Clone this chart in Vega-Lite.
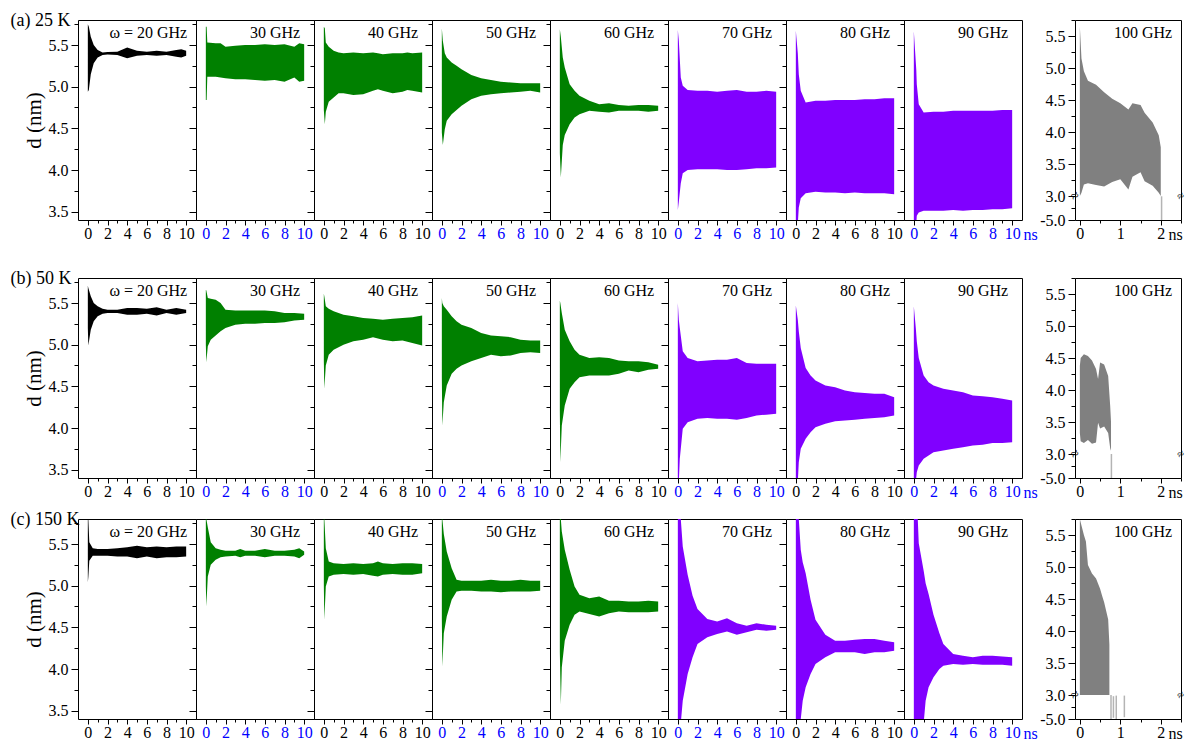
{
"$schema":"https://vega.github.io/schema/vega-lite/v6.json",
"padding":{"left":9,"top":11,"right":0,"bottom":0},
"background":"white",
"config":{
 "view":{"stroke":"#000000","strokeWidth":1},
 "font":"Liberation Serif",
 "text":{"font":"Liberation Serif","color":"black"},
 "axis":{"grid":false,"domain":false,"tickColor":"black","tickWidth":1,"labelColor":"black","labelFont":"Liberation Serif","labelFontSize":16,"titleFont":"Liberation Serif","titleFontWeight":"normal","titleColor":"black","labelOverlap":false,"labelFlush":false,"labelPadding":3},
 "axisX":{"labelPadding":0}
},
"datasets":{
"sig":[
{"r":"a","f":20,"t":0,"lo":4.94,"hi":5.75},{"r":"a","f":20,"t":0.1,"lo":4.96,"hi":5.72},{"r":"a","f":20,"t":0.3,"lo":5.15,"hi":5.6},{"r":"a","f":20,"t":0.6,"lo":5.28,"hi":5.5},{"r":"a","f":20,"t":1,"lo":5.35,"hi":5.44},{"r":"a","f":20,"t":1.5,"lo":5.38,"hi":5.41},{"r":"a","f":20,"t":2,"lo":5.385,"hi":5.415},{"r":"a","f":20,"t":3,"lo":5.38,"hi":5.42},{"r":"a","f":20,"t":4,"lo":5.34,"hi":5.47},{"r":"a","f":20,"t":5,"lo":5.37,"hi":5.43},{"r":"a","f":20,"t":6,"lo":5.38,"hi":5.42},{"r":"a","f":20,"t":7,"lo":5.37,"hi":5.43},{"r":"a","f":20,"t":8,"lo":5.38,"hi":5.42},{"r":"a","f":20,"t":9,"lo":5.36,"hi":5.44},{"r":"a","f":20,"t":9.5,"lo":5.35,"hi":5.45},{"r":"a","f":20,"t":10,"lo":5.37,"hi":5.43},
{"r":"a","f":30,"t":0,"lo":4.84,"hi":5.72},{"r":"a","f":30,"t":0.08,"lo":4.84,"hi":5.72},{"r":"a","f":30,"t":0.15,"lo":5.12,"hi":5.53},{"r":"a","f":30,"t":1,"lo":5.12,"hi":5.52},{"r":"a","f":30,"t":1.5,"lo":5.11,"hi":5.52},{"r":"a","f":30,"t":2,"lo":5.1,"hi":5.48},{"r":"a","f":30,"t":3,"lo":5.09,"hi":5.49},{"r":"a","f":30,"t":4,"lo":5.09,"hi":5.5},{"r":"a","f":30,"t":5,"lo":5.08,"hi":5.5},{"r":"a","f":30,"t":6,"lo":5.07,"hi":5.51},{"r":"a","f":30,"t":7,"lo":5.08,"hi":5.5},{"r":"a","f":30,"t":8,"lo":5.06,"hi":5.51},{"r":"a","f":30,"t":9,"lo":5.11,"hi":5.48},{"r":"a","f":30,"t":9.5,"lo":5.06,"hi":5.52},{"r":"a","f":30,"t":10,"lo":5.07,"hi":5.51},
{"r":"a","f":40,"t":0,"lo":4.72,"hi":5.72},{"r":"a","f":40,"t":0.1,"lo":4.55,"hi":5.7},{"r":"a","f":40,"t":0.2,"lo":4.7,"hi":5.53},{"r":"a","f":40,"t":0.5,"lo":4.82,"hi":5.48},{"r":"a","f":40,"t":1,"lo":4.87,"hi":5.43},{"r":"a","f":40,"t":1.5,"lo":4.92,"hi":5.41},{"r":"a","f":40,"t":2,"lo":4.92,"hi":5.4},{"r":"a","f":40,"t":3,"lo":4.9,"hi":5.41},{"r":"a","f":40,"t":4,"lo":4.91,"hi":5.4},{"r":"a","f":40,"t":5,"lo":4.95,"hi":5.41},{"r":"a","f":40,"t":5.5,"lo":4.97,"hi":5.4},{"r":"a","f":40,"t":6,"lo":4.95,"hi":5.39},{"r":"a","f":40,"t":7,"lo":4.92,"hi":5.4},{"r":"a","f":40,"t":8,"lo":4.94,"hi":5.4},{"r":"a","f":40,"t":8.5,"lo":4.96,"hi":5.41},{"r":"a","f":40,"t":9,"lo":4.95,"hi":5.4},{"r":"a","f":40,"t":10,"lo":4.93,"hi":5.41},
{"r":"a","f":50,"t":0,"lo":4.45,"hi":5.7},{"r":"a","f":50,"t":0.1,"lo":4.3,"hi":5.55},{"r":"a","f":50,"t":0.3,"lo":4.49,"hi":5.4},{"r":"a","f":50,"t":0.5,"lo":4.59,"hi":5.35},{"r":"a","f":50,"t":1,"lo":4.67,"hi":5.29},{"r":"a","f":50,"t":1.5,"lo":4.72,"hi":5.25},{"r":"a","f":50,"t":2,"lo":4.77,"hi":5.21},{"r":"a","f":50,"t":3,"lo":4.85,"hi":5.14},{"r":"a","f":50,"t":4,"lo":4.89,"hi":5.1},{"r":"a","f":50,"t":5,"lo":4.91,"hi":5.08},{"r":"a","f":50,"t":6,"lo":4.92,"hi":5.06},{"r":"a","f":50,"t":7,"lo":4.93,"hi":5.05},{"r":"a","f":50,"t":8,"lo":4.94,"hi":5.04},{"r":"a","f":50,"t":9,"lo":4.95,"hi":5.04},{"r":"a","f":50,"t":10,"lo":4.93,"hi":5.04},
{"r":"a","f":60,"t":0,"lo":4.2,"hi":5.69},{"r":"a","f":60,"t":0.1,"lo":3.91,"hi":5.6},{"r":"a","f":60,"t":0.3,"lo":4.3,"hi":5.35},{"r":"a","f":60,"t":0.5,"lo":4.42,"hi":5.23},{"r":"a","f":60,"t":1,"lo":4.55,"hi":5.03},{"r":"a","f":60,"t":1.5,"lo":4.63,"hi":4.95},{"r":"a","f":60,"t":2,"lo":4.67,"hi":4.89},{"r":"a","f":60,"t":3,"lo":4.71,"hi":4.83},{"r":"a","f":60,"t":4,"lo":4.7,"hi":4.79},{"r":"a","f":60,"t":5,"lo":4.69,"hi":4.8},{"r":"a","f":60,"t":6,"lo":4.71,"hi":4.78},{"r":"a","f":60,"t":7,"lo":4.71,"hi":4.77},{"r":"a","f":60,"t":8,"lo":4.71,"hi":4.78},{"r":"a","f":60,"t":9,"lo":4.7,"hi":4.78},{"r":"a","f":60,"t":10,"lo":4.71,"hi":4.77},
{"r":"a","f":70,"t":0,"lo":3.52,"hi":5.68},{"r":"a","f":70,"t":0.1,"lo":3.62,"hi":5.55},{"r":"a","f":70,"t":0.3,"lo":3.84,"hi":5.11},{"r":"a","f":70,"t":0.5,"lo":3.96,"hi":5.01},{"r":"a","f":70,"t":1,"lo":4.0,"hi":4.96},{"r":"a","f":70,"t":2,"lo":4.01,"hi":4.95},{"r":"a","f":70,"t":3,"lo":4.01,"hi":4.95},{"r":"a","f":70,"t":4,"lo":4.01,"hi":4.94},{"r":"a","f":70,"t":5,"lo":4.0,"hi":4.95},{"r":"a","f":70,"t":6,"lo":4.0,"hi":4.96},{"r":"a","f":70,"t":7,"lo":4.01,"hi":4.94},{"r":"a","f":70,"t":8,"lo":4.02,"hi":4.94},{"r":"a","f":70,"t":9,"lo":4.02,"hi":4.95},{"r":"a","f":70,"t":10,"lo":4.03,"hi":4.94},
{"r":"a","f":80,"t":0,"lo":3.35,"hi":5.67},{"r":"a","f":80,"t":0.2,"lo":3.35,"hi":5.4},{"r":"a","f":80,"t":0.3,"lo":3.55,"hi":5.15},{"r":"a","f":80,"t":0.5,"lo":3.66,"hi":4.95},{"r":"a","f":80,"t":1,"lo":3.72,"hi":4.81},{"r":"a","f":80,"t":2,"lo":3.74,"hi":4.83},{"r":"a","f":80,"t":3,"lo":3.73,"hi":4.83},{"r":"a","f":80,"t":4,"lo":3.73,"hi":4.84},{"r":"a","f":80,"t":5,"lo":3.72,"hi":4.84},{"r":"a","f":80,"t":6,"lo":3.73,"hi":4.84},{"r":"a","f":80,"t":7,"lo":3.72,"hi":4.85},{"r":"a","f":80,"t":8,"lo":3.72,"hi":4.85},{"r":"a","f":80,"t":9,"lo":3.72,"hi":4.86},{"r":"a","f":80,"t":10,"lo":3.71,"hi":4.86},
{"r":"a","f":90,"t":0,"lo":3.35,"hi":5.665},{"r":"a","f":90,"t":0.25,"lo":3.35,"hi":5.2},{"r":"a","f":90,"t":0.3,"lo":3.45,"hi":5.03},{"r":"a","f":90,"t":0.5,"lo":3.49,"hi":4.79},{"r":"a","f":90,"t":1,"lo":3.51,"hi":4.69},{"r":"a","f":90,"t":2,"lo":3.51,"hi":4.7},{"r":"a","f":90,"t":3,"lo":3.51,"hi":4.7},{"r":"a","f":90,"t":4,"lo":3.52,"hi":4.71},{"r":"a","f":90,"t":5,"lo":3.51,"hi":4.71},{"r":"a","f":90,"t":6,"lo":3.52,"hi":4.71},{"r":"a","f":90,"t":7,"lo":3.52,"hi":4.71},{"r":"a","f":90,"t":8,"lo":3.53,"hi":4.71},{"r":"a","f":90,"t":9,"lo":3.53,"hi":4.72},{"r":"a","f":90,"t":10,"lo":3.54,"hi":4.72},
{"r":"a","f":100,"t":0,"lo":3.0,"hi":5.65},{"r":"a","f":100,"t":0.04,"lo":3.05,"hi":5.15},{"r":"a","f":100,"t":0.1,"lo":3.18,"hi":4.95},{"r":"a","f":100,"t":0.2,"lo":3.2,"hi":4.8},{"r":"a","f":100,"t":0.4,"lo":3.17,"hi":4.74},{"r":"a","f":100,"t":0.6,"lo":3.15,"hi":4.62},{"r":"a","f":100,"t":0.8,"lo":3.22,"hi":4.52},{"r":"a","f":100,"t":1.0,"lo":3.26,"hi":4.45},{"r":"a","f":100,"t":1.2,"lo":3.1,"hi":4.35},{"r":"a","f":100,"t":1.3,"lo":3.3,"hi":4.45},{"r":"a","f":100,"t":1.5,"lo":3.37,"hi":4.42},{"r":"a","f":100,"t":1.6,"lo":3.23,"hi":4.3},{"r":"a","f":100,"t":1.8,"lo":3.16,"hi":4.15},{"r":"a","f":100,"t":1.95,"lo":3.05,"hi":3.95},{"r":"a","f":100,"t":2.0,"lo":3.0,"hi":3.76},
{"r":"b","f":20,"t":0,"lo":5.2,"hi":5.71},{"r":"b","f":20,"t":0.05,"lo":4.99,"hi":5.68},{"r":"b","f":20,"t":0.3,"lo":5.18,"hi":5.58},{"r":"b","f":20,"t":0.6,"lo":5.28,"hi":5.5},{"r":"b","f":20,"t":1,"lo":5.34,"hi":5.46},{"r":"b","f":20,"t":1.5,"lo":5.37,"hi":5.43},{"r":"b","f":20,"t":2,"lo":5.38,"hi":5.42},{"r":"b","f":20,"t":3,"lo":5.38,"hi":5.42},{"r":"b","f":20,"t":4,"lo":5.36,"hi":5.44},{"r":"b","f":20,"t":5,"lo":5.36,"hi":5.44},{"r":"b","f":20,"t":6,"lo":5.37,"hi":5.43},{"r":"b","f":20,"t":7,"lo":5.35,"hi":5.45},{"r":"b","f":20,"t":8,"lo":5.38,"hi":5.42},{"r":"b","f":20,"t":9,"lo":5.36,"hi":5.44},{"r":"b","f":20,"t":10,"lo":5.38,"hi":5.42},
{"r":"b","f":30,"t":0,"lo":5.0,"hi":5.66},{"r":"b","f":30,"t":0.05,"lo":4.79,"hi":5.65},{"r":"b","f":30,"t":0.2,"lo":4.98,"hi":5.56},{"r":"b","f":30,"t":0.5,"lo":5.06,"hi":5.55},{"r":"b","f":30,"t":1,"lo":5.11,"hi":5.54},{"r":"b","f":30,"t":1.5,"lo":5.16,"hi":5.5},{"r":"b","f":30,"t":2,"lo":5.2,"hi":5.42},{"r":"b","f":30,"t":3,"lo":5.24,"hi":5.41},{"r":"b","f":30,"t":4,"lo":5.25,"hi":5.41},{"r":"b","f":30,"t":5,"lo":5.25,"hi":5.41},{"r":"b","f":30,"t":6,"lo":5.26,"hi":5.41},{"r":"b","f":30,"t":7,"lo":5.26,"hi":5.4},{"r":"b","f":30,"t":8,"lo":5.27,"hi":5.38},{"r":"b","f":30,"t":9,"lo":5.29,"hi":5.38},{"r":"b","f":30,"t":10,"lo":5.3,"hi":5.37},
{"r":"b","f":40,"t":0,"lo":4.8,"hi":5.61},{"r":"b","f":40,"t":0.05,"lo":4.47,"hi":5.58},{"r":"b","f":40,"t":0.2,"lo":4.75,"hi":5.46},{"r":"b","f":40,"t":0.5,"lo":4.88,"hi":5.43},{"r":"b","f":40,"t":1,"lo":4.94,"hi":5.4},{"r":"b","f":40,"t":2,"lo":5.0,"hi":5.36},{"r":"b","f":40,"t":3,"lo":5.04,"hi":5.34},{"r":"b","f":40,"t":4,"lo":5.06,"hi":5.32},{"r":"b","f":40,"t":5,"lo":5.09,"hi":5.31},{"r":"b","f":40,"t":6,"lo":5.06,"hi":5.3},{"r":"b","f":40,"t":7,"lo":5.04,"hi":5.31},{"r":"b","f":40,"t":8,"lo":5.05,"hi":5.32},{"r":"b","f":40,"t":9,"lo":5.02,"hi":5.33},{"r":"b","f":40,"t":10,"lo":4.99,"hi":5.35},
{"r":"b","f":50,"t":0,"lo":4.6,"hi":5.56},{"r":"b","f":50,"t":0.05,"lo":4.03,"hi":5.5},{"r":"b","f":50,"t":0.2,"lo":4.31,"hi":5.46},{"r":"b","f":50,"t":0.5,"lo":4.51,"hi":5.42},{"r":"b","f":50,"t":1,"lo":4.65,"hi":5.34},{"r":"b","f":50,"t":1.5,"lo":4.71,"hi":5.28},{"r":"b","f":50,"t":2,"lo":4.75,"hi":5.24},{"r":"b","f":50,"t":3,"lo":4.8,"hi":5.2},{"r":"b","f":50,"t":4,"lo":4.84,"hi":5.14},{"r":"b","f":50,"t":5,"lo":4.88,"hi":5.11},{"r":"b","f":50,"t":6,"lo":4.86,"hi":5.1},{"r":"b","f":50,"t":7,"lo":4.87,"hi":5.09},{"r":"b","f":50,"t":8,"lo":4.9,"hi":5.06},{"r":"b","f":50,"t":9,"lo":4.91,"hi":5.05},{"r":"b","f":50,"t":10,"lo":4.9,"hi":5.05},
{"r":"b","f":60,"t":0,"lo":4.2,"hi":5.53},{"r":"b","f":60,"t":0.05,"lo":3.59,"hi":5.5},{"r":"b","f":60,"t":0.2,"lo":4.03,"hi":5.38},{"r":"b","f":60,"t":0.5,"lo":4.27,"hi":5.18},{"r":"b","f":60,"t":1,"lo":4.47,"hi":5.04},{"r":"b","f":60,"t":1.5,"lo":4.55,"hi":4.94},{"r":"b","f":60,"t":2,"lo":4.61,"hi":4.88},{"r":"b","f":60,"t":3,"lo":4.63,"hi":4.84},{"r":"b","f":60,"t":4,"lo":4.63,"hi":4.85},{"r":"b","f":60,"t":5,"lo":4.63,"hi":4.84},{"r":"b","f":60,"t":6,"lo":4.65,"hi":4.81},{"r":"b","f":60,"t":7,"lo":4.69,"hi":4.8},{"r":"b","f":60,"t":8,"lo":4.67,"hi":4.8},{"r":"b","f":60,"t":9,"lo":4.7,"hi":4.79},{"r":"b","f":60,"t":10,"lo":4.71,"hi":4.76},
{"r":"b","f":70,"t":0,"lo":3.35,"hi":5.5},{"r":"b","f":70,"t":0.1,"lo":3.35,"hi":5.3},{"r":"b","f":70,"t":0.2,"lo":3.63,"hi":5.2},{"r":"b","f":70,"t":0.5,"lo":3.99,"hi":4.92},{"r":"b","f":70,"t":1,"lo":4.07,"hi":4.84},{"r":"b","f":70,"t":2,"lo":4.11,"hi":4.8},{"r":"b","f":70,"t":3,"lo":4.12,"hi":4.81},{"r":"b","f":70,"t":4,"lo":4.11,"hi":4.82},{"r":"b","f":70,"t":5,"lo":4.11,"hi":4.82},{"r":"b","f":70,"t":6,"lo":4.1,"hi":4.84},{"r":"b","f":70,"t":7,"lo":4.12,"hi":4.78},{"r":"b","f":70,"t":8,"lo":4.15,"hi":4.77},{"r":"b","f":70,"t":9,"lo":4.16,"hi":4.77},{"r":"b","f":70,"t":10,"lo":4.17,"hi":4.77},
{"r":"b","f":80,"t":0,"lo":3.35,"hi":5.47},{"r":"b","f":80,"t":0.2,"lo":3.35,"hi":5.3},{"r":"b","f":80,"t":0.3,"lo":3.59,"hi":5.16},{"r":"b","f":80,"t":0.5,"lo":3.75,"hi":4.96},{"r":"b","f":80,"t":1,"lo":3.87,"hi":4.72},{"r":"b","f":80,"t":1.5,"lo":3.95,"hi":4.63},{"r":"b","f":80,"t":2,"lo":4.01,"hi":4.57},{"r":"b","f":80,"t":3,"lo":4.05,"hi":4.51},{"r":"b","f":80,"t":4,"lo":4.08,"hi":4.49},{"r":"b","f":80,"t":5,"lo":4.09,"hi":4.45},{"r":"b","f":80,"t":6,"lo":4.1,"hi":4.43},{"r":"b","f":80,"t":7,"lo":4.11,"hi":4.42},{"r":"b","f":80,"t":8,"lo":4.12,"hi":4.41},{"r":"b","f":80,"t":9,"lo":4.13,"hi":4.41},{"r":"b","f":80,"t":10,"lo":4.15,"hi":4.37},
{"r":"b","f":90,"t":0,"lo":3.35,"hi":5.46},{"r":"b","f":90,"t":0.2,"lo":3.35,"hi":5.2},{"r":"b","f":90,"t":0.3,"lo":3.47,"hi":5.04},{"r":"b","f":90,"t":0.5,"lo":3.55,"hi":4.84},{"r":"b","f":90,"t":1,"lo":3.63,"hi":4.63},{"r":"b","f":90,"t":1.5,"lo":3.67,"hi":4.55},{"r":"b","f":90,"t":2,"lo":3.71,"hi":4.51},{"r":"b","f":90,"t":3,"lo":3.73,"hi":4.47},{"r":"b","f":90,"t":4,"lo":3.75,"hi":4.45},{"r":"b","f":90,"t":5,"lo":3.77,"hi":4.43},{"r":"b","f":90,"t":6,"lo":3.79,"hi":4.39},{"r":"b","f":90,"t":7,"lo":3.8,"hi":4.38},{"r":"b","f":90,"t":8,"lo":3.82,"hi":4.37},{"r":"b","f":90,"t":9,"lo":3.82,"hi":4.35},{"r":"b","f":90,"t":10,"lo":3.83,"hi":4.33},
{"r":"b","f":100,"t":0,"lo":3.33,"hi":4.38},{"r":"b","f":100,"t":0.02,"lo":3.2,"hi":4.5},{"r":"b","f":100,"t":0.1,"lo":3.17,"hi":4.56},{"r":"b","f":100,"t":0.2,"lo":3.22,"hi":4.53},{"r":"b","f":100,"t":0.3,"lo":3.16,"hi":4.46},{"r":"b","f":100,"t":0.4,"lo":3.18,"hi":4.33},{"r":"b","f":100,"t":0.45,"lo":3.49,"hi":4.17},{"r":"b","f":100,"t":0.5,"lo":3.4,"hi":4.43},{"r":"b","f":100,"t":0.6,"lo":3.43,"hi":4.4},{"r":"b","f":100,"t":0.7,"lo":3.33,"hi":4.22},{"r":"b","f":100,"t":0.75,"lo":3.09,"hi":3.75},{"r":"b","f":100,"t":0.77,"lo":3.05,"hi":3.5},
{"r":"c","f":20,"t":0,"lo":5.04,"hi":5.8},{"r":"c","f":20,"t":0.05,"lo":5.1,"hi":5.8},{"r":"c","f":20,"t":0.15,"lo":5.3,"hi":5.52},{"r":"c","f":20,"t":0.5,"lo":5.36,"hi":5.45},{"r":"c","f":20,"t":1,"lo":5.36,"hi":5.44},{"r":"c","f":20,"t":2,"lo":5.36,"hi":5.44},{"r":"c","f":20,"t":3,"lo":5.35,"hi":5.45},{"r":"c","f":20,"t":4,"lo":5.35,"hi":5.46},{"r":"c","f":20,"t":5,"lo":5.33,"hi":5.48},{"r":"c","f":20,"t":6,"lo":5.35,"hi":5.46},{"r":"c","f":20,"t":7,"lo":5.33,"hi":5.47},{"r":"c","f":20,"t":8,"lo":5.34,"hi":5.46},{"r":"c","f":20,"t":9,"lo":5.34,"hi":5.47},{"r":"c","f":20,"t":10,"lo":5.35,"hi":5.47},
{"r":"c","f":30,"t":0,"lo":5.0,"hi":5.8},{"r":"c","f":30,"t":0.05,"lo":4.75,"hi":5.8},{"r":"c","f":30,"t":0.2,"lo":5.11,"hi":5.7},{"r":"c","f":30,"t":0.5,"lo":5.25,"hi":5.52},{"r":"c","f":30,"t":1,"lo":5.31,"hi":5.45},{"r":"c","f":30,"t":1.5,"lo":5.34,"hi":5.43},{"r":"c","f":30,"t":2,"lo":5.35,"hi":5.42},{"r":"c","f":30,"t":3,"lo":5.36,"hi":5.42},{"r":"c","f":30,"t":3.5,"lo":5.34,"hi":5.44},{"r":"c","f":30,"t":4,"lo":5.36,"hi":5.42},{"r":"c","f":30,"t":5,"lo":5.36,"hi":5.42},{"r":"c","f":30,"t":6,"lo":5.34,"hi":5.44},{"r":"c","f":30,"t":7,"lo":5.36,"hi":5.42},{"r":"c","f":30,"t":8,"lo":5.36,"hi":5.42},{"r":"c","f":30,"t":9,"lo":5.35,"hi":5.43},{"r":"c","f":30,"t":9.5,"lo":5.33,"hi":5.45},{"r":"c","f":30,"t":10,"lo":5.37,"hi":5.41},
{"r":"c","f":40,"t":0,"lo":5.0,"hi":5.8},{"r":"c","f":40,"t":0.05,"lo":4.59,"hi":5.8},{"r":"c","f":40,"t":0.2,"lo":4.99,"hi":5.45},{"r":"c","f":40,"t":0.5,"lo":5.11,"hi":5.29},{"r":"c","f":40,"t":1,"lo":5.13,"hi":5.27},{"r":"c","f":40,"t":2,"lo":5.14,"hi":5.26},{"r":"c","f":40,"t":3,"lo":5.13,"hi":5.27},{"r":"c","f":40,"t":4,"lo":5.14,"hi":5.26},{"r":"c","f":40,"t":5,"lo":5.12,"hi":5.27},{"r":"c","f":40,"t":5.5,"lo":5.11,"hi":5.29},{"r":"c","f":40,"t":6,"lo":5.13,"hi":5.27},{"r":"c","f":40,"t":7,"lo":5.14,"hi":5.26},{"r":"c","f":40,"t":8,"lo":5.13,"hi":5.27},{"r":"c","f":40,"t":9,"lo":5.13,"hi":5.27},{"r":"c","f":40,"t":10,"lo":5.15,"hi":5.26},
{"r":"c","f":50,"t":0,"lo":4.6,"hi":5.8},{"r":"c","f":50,"t":0.05,"lo":4.03,"hi":5.8},{"r":"c","f":50,"t":0.2,"lo":4.43,"hi":5.62},{"r":"c","f":50,"t":0.5,"lo":4.63,"hi":5.41},{"r":"c","f":50,"t":1,"lo":4.83,"hi":5.21},{"r":"c","f":50,"t":1.5,"lo":4.93,"hi":5.07},{"r":"c","f":50,"t":2,"lo":4.94,"hi":5.06},{"r":"c","f":50,"t":3,"lo":4.94,"hi":5.06},{"r":"c","f":50,"t":4,"lo":4.93,"hi":5.06},{"r":"c","f":50,"t":5,"lo":4.93,"hi":5.07},{"r":"c","f":50,"t":6,"lo":4.92,"hi":5.06},{"r":"c","f":50,"t":7,"lo":4.93,"hi":5.06},{"r":"c","f":50,"t":8,"lo":4.93,"hi":5.07},{"r":"c","f":50,"t":9,"lo":4.93,"hi":5.06},{"r":"c","f":50,"t":10,"lo":4.94,"hi":5.06},
{"r":"c","f":60,"t":0,"lo":4.2,"hi":5.8},{"r":"c","f":60,"t":0.1,"lo":3.57,"hi":5.8},{"r":"c","f":60,"t":0.2,"lo":4.02,"hi":5.65},{"r":"c","f":60,"t":0.5,"lo":4.34,"hi":5.43},{"r":"c","f":60,"t":1,"lo":4.53,"hi":5.19},{"r":"c","f":60,"t":1.5,"lo":4.65,"hi":4.99},{"r":"c","f":60,"t":2,"lo":4.69,"hi":4.89},{"r":"c","f":60,"t":3,"lo":4.66,"hi":4.85},{"r":"c","f":60,"t":4,"lo":4.63,"hi":4.87},{"r":"c","f":60,"t":5,"lo":4.67,"hi":4.82},{"r":"c","f":60,"t":6,"lo":4.69,"hi":4.82},{"r":"c","f":60,"t":7,"lo":4.68,"hi":4.81},{"r":"c","f":60,"t":8,"lo":4.68,"hi":4.81},{"r":"c","f":60,"t":9,"lo":4.68,"hi":4.82},{"r":"c","f":60,"t":10,"lo":4.69,"hi":4.81},
{"r":"c","f":70,"t":0,"lo":3.35,"hi":5.8},{"r":"c","f":70,"t":0.3,"lo":3.35,"hi":5.8},{"r":"c","f":70,"t":0.5,"lo":3.62,"hi":5.47},{"r":"c","f":70,"t":1,"lo":3.94,"hi":5.13},{"r":"c","f":70,"t":1.5,"lo":4.14,"hi":4.88},{"r":"c","f":70,"t":2,"lo":4.3,"hi":4.72},{"r":"c","f":70,"t":3,"lo":4.38,"hi":4.6},{"r":"c","f":70,"t":4,"lo":4.42,"hi":4.57},{"r":"c","f":70,"t":5,"lo":4.45,"hi":4.61},{"r":"c","f":70,"t":6,"lo":4.41,"hi":4.55},{"r":"c","f":70,"t":7,"lo":4.44,"hi":4.52},{"r":"c","f":70,"t":8,"lo":4.47,"hi":4.55},{"r":"c","f":70,"t":9,"lo":4.46,"hi":4.53},{"r":"c","f":70,"t":10,"lo":4.47,"hi":4.52},
{"r":"c","f":80,"t":0,"lo":3.35,"hi":5.8},{"r":"c","f":80,"t":0.3,"lo":3.35,"hi":5.8},{"r":"c","f":80,"t":0.5,"lo":3.4,"hi":5.43},{"r":"c","f":80,"t":0.7,"lo":3.62,"hi":5.28},{"r":"c","f":80,"t":1,"lo":3.78,"hi":5.15},{"r":"c","f":80,"t":1.5,"lo":3.94,"hi":4.83},{"r":"c","f":80,"t":2,"lo":4.06,"hi":4.59},{"r":"c","f":80,"t":3,"lo":4.14,"hi":4.41},{"r":"c","f":80,"t":4,"lo":4.2,"hi":4.34},{"r":"c","f":80,"t":5,"lo":4.2,"hi":4.34},{"r":"c","f":80,"t":6,"lo":4.2,"hi":4.35},{"r":"c","f":80,"t":7,"lo":4.18,"hi":4.36},{"r":"c","f":80,"t":8,"lo":4.2,"hi":4.36},{"r":"c","f":80,"t":9,"lo":4.2,"hi":4.34},{"r":"c","f":80,"t":10,"lo":4.22,"hi":4.32},
{"r":"c","f":90,"t":0,"lo":3.35,"hi":5.8},{"r":"c","f":90,"t":0.4,"lo":3.35,"hi":5.8},{"r":"c","f":90,"t":0.5,"lo":3.35,"hi":5.51},{"r":"c","f":90,"t":1,"lo":3.35,"hi":5.18},{"r":"c","f":90,"t":1.2,"lo":3.62,"hi":5.03},{"r":"c","f":90,"t":1.5,"lo":3.78,"hi":4.9},{"r":"c","f":90,"t":2,"lo":3.9,"hi":4.65},{"r":"c","f":90,"t":2.6,"lo":4.0,"hi":4.43},{"r":"c","f":90,"t":3,"lo":4.04,"hi":4.3},{"r":"c","f":90,"t":4,"lo":4.06,"hi":4.18},{"r":"c","f":90,"t":5,"lo":4.05,"hi":4.16},{"r":"c","f":90,"t":6,"lo":4.06,"hi":4.14},{"r":"c","f":90,"t":7,"lo":4.05,"hi":4.16},{"r":"c","f":90,"t":8,"lo":4.05,"hi":4.16},{"r":"c","f":90,"t":9,"lo":4.05,"hi":4.15},{"r":"c","f":90,"t":10,"lo":4.04,"hi":4.14},
{"r":"c","f":100,"t":0,"lo":3.0,"hi":5.75},{"r":"c","f":100,"t":0.04,"lo":3.0,"hi":5.65},{"r":"c","f":100,"t":0.1,"lo":3.0,"hi":5.5},{"r":"c","f":100,"t":0.15,"lo":3.0,"hi":5.4},{"r":"c","f":100,"t":0.2,"lo":3.0,"hi":5.03},{"r":"c","f":100,"t":0.3,"lo":3.0,"hi":4.9},{"r":"c","f":100,"t":0.4,"lo":3.0,"hi":4.82},{"r":"c","f":100,"t":0.5,"lo":3.0,"hi":4.66},{"r":"c","f":100,"t":0.55,"lo":3.0,"hi":4.55},{"r":"c","f":100,"t":0.6,"lo":3.0,"hi":4.45},{"r":"c","f":100,"t":0.7,"lo":3.0,"hi":4.18},{"r":"c","f":100,"t":0.73,"lo":3.0,"hi":3.79}
],
"seg":[
{"r":"a","t":2.02,"lo":-5,"hi":2.9},
{"r":"b","t":0.78,"lo":-5,"hi":3.0},
{"r":"c","t":0.77,"lo":-5,"hi":3.0},{"r":"c","t":0.83,"lo":-4.6,"hi":2.6},{"r":"c","t":0.9,"lo":-5,"hi":2.8},{"r":"c","t":1.1,"lo":-4.4,"hi":2.8}
]
},
"spacing":26,
"vconcat":[
{"hconcat":[
  {"width":118,"height":200,"layer":[
   {"data":{"name":"sig"},"transform":[{"filter":"datum.r=='a' && datum.f==20"}],"mark":{"type":"area","color":"#000000","clip":true},"encoding":{"x":{"field":"t","type":"quantitative","scale":{"domain":[-1,11],"nice":false,"zero":false},"axis":{"values":[0,1,2,3,4,5,6,7,8,9,10],"tickCount":100,"format":"d","labelOverlap":false,"labelExpr":"datum.value%2==0 ? datum.label : ''","tickSize":{"condition":{"test":"datum.value%2==1","value":3},"value":5},"labelColor":"black","title":null}},"y":{"field":"lo","type":"quantitative","scale":{"domain":[3.4,5.8],"nice":false,"zero":false},"axis":{"values":[3.5,3.75,4,4.25,4.5,4.75,5,5.25,5.5,5.75],"tickCount":100,"format":".1f","labelOverlap":false,"labelExpr":"(datum.value*4)%2==0 ? datum.label : ''","tickSize":{"condition":{"test":"(datum.value*4)%2==1","value":4},"value":7},"title":"d (nm)","titleFontSize":21,"titlePadding":4}},"y2":{"field":"hi"}}},
   {"data":{"values":[{}]},"mark":{"type":"text","align":"right","baseline":"middle","fontSize":16},"encoding":{"x":{"datum":10.1},"y":{"datum":5.65},"text":{"value":"ω = 20 GHz"}}},
   {"data":{"values":[{}]},"mark":{"type":"text","align":"left","baseline":"alphabetic","fontSize":18},"encoding":{"x":{"datum":-7.87},"y":{"datum":5.725},"text":{"value":"(a) 25 K"}}}]},
  {"width":118,"height":200,"layer":[
   {"data":{"name":"sig"},"transform":[{"filter":"datum.r=='a' && datum.f==30"}],"mark":{"type":"area","color":"#008000","clip":true},"encoding":{"x":{"field":"t","type":"quantitative","scale":{"domain":[-1,11],"nice":false,"zero":false},"axis":{"values":[0,1,2,3,4,5,6,7,8,9,10],"tickCount":100,"format":"d","labelOverlap":false,"labelExpr":"datum.value%2==0 ? datum.label : ''","tickSize":{"condition":{"test":"datum.value%2==1","value":3},"value":5},"labelColor":"#0000ff","title":null}},"y":{"field":"lo","type":"quantitative","scale":{"domain":[3.4,5.8],"nice":false,"zero":false},"axis":{"values":[3.5,3.75,4,4.25,4.5,4.75,5,5.25,5.5,5.75],"tickCount":100,"labels":false,"tickSize":{"condition":{"test":"(datum.value*4)%2==1","value":4},"value":7},"title":null}},"y2":{"field":"hi"}}},
   {"data":{"values":[{}]},"mark":{"type":"text","align":"right","baseline":"middle","fontSize":16},"encoding":{"x":{"datum":9.6},"y":{"datum":5.65},"text":{"value":"30 GHz"}}}]},
  {"width":118,"height":200,"layer":[
   {"data":{"name":"sig"},"transform":[{"filter":"datum.r=='a' && datum.f==40"}],"mark":{"type":"area","color":"#008000","clip":true},"encoding":{"x":{"field":"t","type":"quantitative","scale":{"domain":[-1,11],"nice":false,"zero":false},"axis":{"values":[0,1,2,3,4,5,6,7,8,9,10],"tickCount":100,"format":"d","labelOverlap":false,"labelExpr":"datum.value%2==0 ? datum.label : ''","tickSize":{"condition":{"test":"datum.value%2==1","value":3},"value":5},"labelColor":"black","title":null}},"y":{"field":"lo","type":"quantitative","scale":{"domain":[3.4,5.8],"nice":false,"zero":false},"axis":{"values":[3.5,3.75,4,4.25,4.5,4.75,5,5.25,5.5,5.75],"tickCount":100,"labels":false,"tickSize":{"condition":{"test":"(datum.value*4)%2==1","value":4},"value":7},"title":null}},"y2":{"field":"hi"}}},
   {"data":{"values":[{}]},"mark":{"type":"text","align":"right","baseline":"middle","fontSize":16},"encoding":{"x":{"datum":9.6},"y":{"datum":5.65},"text":{"value":"40 GHz"}}}]},
  {"width":118,"height":200,"layer":[
   {"data":{"name":"sig"},"transform":[{"filter":"datum.r=='a' && datum.f==50"}],"mark":{"type":"area","color":"#008000","clip":true},"encoding":{"x":{"field":"t","type":"quantitative","scale":{"domain":[-1,11],"nice":false,"zero":false},"axis":{"values":[0,1,2,3,4,5,6,7,8,9,10],"tickCount":100,"format":"d","labelOverlap":false,"labelExpr":"datum.value%2==0 ? datum.label : ''","tickSize":{"condition":{"test":"datum.value%2==1","value":3},"value":5},"labelColor":"#0000ff","title":null}},"y":{"field":"lo","type":"quantitative","scale":{"domain":[3.4,5.8],"nice":false,"zero":false},"axis":{"values":[3.5,3.75,4,4.25,4.5,4.75,5,5.25,5.5,5.75],"tickCount":100,"labels":false,"tickSize":{"condition":{"test":"(datum.value*4)%2==1","value":4},"value":7},"title":null}},"y2":{"field":"hi"}}},
   {"data":{"values":[{}]},"mark":{"type":"text","align":"right","baseline":"middle","fontSize":16},"encoding":{"x":{"datum":9.6},"y":{"datum":5.65},"text":{"value":"50 GHz"}}}]},
  {"width":118,"height":200,"layer":[
   {"data":{"name":"sig"},"transform":[{"filter":"datum.r=='a' && datum.f==60"}],"mark":{"type":"area","color":"#008000","clip":true},"encoding":{"x":{"field":"t","type":"quantitative","scale":{"domain":[-1,11],"nice":false,"zero":false},"axis":{"values":[0,1,2,3,4,5,6,7,8,9,10],"tickCount":100,"format":"d","labelOverlap":false,"labelExpr":"datum.value%2==0 ? datum.label : ''","tickSize":{"condition":{"test":"datum.value%2==1","value":3},"value":5},"labelColor":"black","title":null}},"y":{"field":"lo","type":"quantitative","scale":{"domain":[3.4,5.8],"nice":false,"zero":false},"axis":{"values":[3.5,3.75,4,4.25,4.5,4.75,5,5.25,5.5,5.75],"tickCount":100,"labels":false,"tickSize":{"condition":{"test":"(datum.value*4)%2==1","value":4},"value":7},"title":null}},"y2":{"field":"hi"}}},
   {"data":{"values":[{}]},"mark":{"type":"text","align":"right","baseline":"middle","fontSize":16},"encoding":{"x":{"datum":9.6},"y":{"datum":5.65},"text":{"value":"60 GHz"}}}]},
  {"width":118,"height":200,"layer":[
   {"data":{"name":"sig"},"transform":[{"filter":"datum.r=='a' && datum.f==70"}],"mark":{"type":"area","color":"#8000ff","clip":true},"encoding":{"x":{"field":"t","type":"quantitative","scale":{"domain":[-1,11],"nice":false,"zero":false},"axis":{"values":[0,1,2,3,4,5,6,7,8,9,10],"tickCount":100,"format":"d","labelOverlap":false,"labelExpr":"datum.value%2==0 ? datum.label : ''","tickSize":{"condition":{"test":"datum.value%2==1","value":3},"value":5},"labelColor":"#0000ff","title":null}},"y":{"field":"lo","type":"quantitative","scale":{"domain":[3.4,5.8],"nice":false,"zero":false},"axis":{"values":[3.5,3.75,4,4.25,4.5,4.75,5,5.25,5.5,5.75],"tickCount":100,"labels":false,"tickSize":{"condition":{"test":"(datum.value*4)%2==1","value":4},"value":7},"title":null}},"y2":{"field":"hi"}}},
   {"data":{"values":[{}]},"mark":{"type":"text","align":"right","baseline":"middle","fontSize":16},"encoding":{"x":{"datum":9.6},"y":{"datum":5.65},"text":{"value":"70 GHz"}}}]},
  {"width":118,"height":200,"layer":[
   {"data":{"name":"sig"},"transform":[{"filter":"datum.r=='a' && datum.f==80"}],"mark":{"type":"area","color":"#8000ff","clip":true},"encoding":{"x":{"field":"t","type":"quantitative","scale":{"domain":[-1,11],"nice":false,"zero":false},"axis":{"values":[0,1,2,3,4,5,6,7,8,9,10],"tickCount":100,"format":"d","labelOverlap":false,"labelExpr":"datum.value%2==0 ? datum.label : ''","tickSize":{"condition":{"test":"datum.value%2==1","value":3},"value":5},"labelColor":"black","title":null}},"y":{"field":"lo","type":"quantitative","scale":{"domain":[3.4,5.8],"nice":false,"zero":false},"axis":{"values":[3.5,3.75,4,4.25,4.5,4.75,5,5.25,5.5,5.75],"tickCount":100,"labels":false,"tickSize":{"condition":{"test":"(datum.value*4)%2==1","value":4},"value":7},"title":null}},"y2":{"field":"hi"}}},
   {"data":{"values":[{}]},"mark":{"type":"text","align":"right","baseline":"middle","fontSize":16},"encoding":{"x":{"datum":9.6},"y":{"datum":5.65},"text":{"value":"80 GHz"}}}]},
  {"width":118,"height":200,"layer":[
   {"data":{"name":"sig"},"transform":[{"filter":"datum.r=='a' && datum.f==90"}],"mark":{"type":"area","color":"#8000ff","clip":true},"encoding":{"x":{"field":"t","type":"quantitative","scale":{"domain":[-1,11],"nice":false,"zero":false},"axis":{"values":[0,1,2,3,4,5,6,7,8,9,10],"tickCount":100,"format":"d","labelOverlap":false,"labelExpr":"datum.value%2==0 ? datum.label : ''","tickSize":{"condition":{"test":"datum.value%2==1","value":3},"value":5},"labelColor":"#0000ff","title":"ns","titleX":119,"titleY":19,"titleAlign":"left","titleBaseline":"alphabetic","titleAngle":0,"titleColor":"#0000ff","titleFontSize":16}},"y":{"field":"lo","type":"quantitative","scale":{"domain":[3.4,5.8],"nice":false,"zero":false},"axis":{"values":[3.5,3.75,4,4.25,4.5,4.75,5,5.25,5.5,5.75],"tickCount":100,"labels":false,"tickSize":{"condition":{"test":"(datum.value*4)%2==1","value":4},"value":7},"title":null}},"y2":{"field":"hi"}}},
   {"data":{"values":[{}]},"mark":{"type":"text","align":"right","baseline":"middle","fontSize":16},"encoding":{"x":{"datum":9.6},"y":{"datum":5.65},"text":{"value":"90 GHz"}}}]},
  {"width":53,"height":200,"data":{"values":[{}]},"mark":{"type":"point","opacity":0},"encoding":{},"view":{"stroke":null}},
  {"width":106,"height":200,"layer":[
   {"data":{"name":"sig"},"transform":[{"filter":"datum.r=='a' && datum.f==100"}],"mark":{"type":"area","color":"#808080","clip":true},"encoding":{"x":{"field":"t","type":"quantitative","scale":{"domain":[-0.12,2.5],"nice":false,"zero":false},"axis":{"values":[0,0.5,1,1.5,2,2.5],"tickCount":100,"format":".0f","labelOverlap":false,"labelExpr":"datum.value%1==0 ? datum.label : ''","tickSize":{"condition":{"test":"datum.value%1!=0","value":3},"value":5},"title":"ns","titleX":93,"titleY":19,"titleAlign":"left","titleBaseline":"alphabetic","titleAngle":0,"titleFontSize":16}},"y":{"field":"lo","type":"quantitative","scale":{"domain":[-5,3,5.75],"range":[200,176,0],"nice":false,"zero":false},"axis":{"values":[-5,-1,3,3.25,3.5,3.75,4,4.25,4.5,4.75,5,5.25,5.5,5.75],"tickCount":100,"format":".1f","labelOverlap":false,"labelExpr":"datum.value==-5 ? '-5.0' : ((datum.value>=3 && (datum.value*4)%2==0) ? datum.label : '')","tickSize":{"condition":{"test":"datum.value==-1 || (datum.value*4)%2==1","value":4},"value":7},"title":null}},"y2":{"field":"hi"}}},
   {"data":{"name":"seg"},"transform":[{"filter":"datum.r=='a'"}],"mark":{"type":"rule","color":"#b4b4b4","strokeWidth":1.5},"encoding":{"x":{"field":"t","type":"quantitative"},"y":{"field":"lo","type":"quantitative"},"y2":{"field":"hi"}}},
   {"data":{"values":[{}]},"mark":{"type":"text","align":"right","baseline":"middle","fontSize":16},"encoding":{"x":{"datum":2.28},"y":{"datum":5.54},"text":{"value":"100 GHz"}}},
   {"data":{"values":[{}]},"mark":{"type":"text","align":"center","baseline":"middle","fontSize":14,"angle":-30},"encoding":{"x":{"datum":-0.12},"y":{"datum":3.0},"text":{"value":"≈"}}},
   {"data":{"values":[{}]},"mark":{"type":"text","align":"center","baseline":"middle","fontSize":12,"angle":-30},"encoding":{"x":{"datum":2.49},"y":{"datum":3.0},"text":{"value":"≈"}}}
  ]}
],"spacing":0,"bounds":"flush"},
{"vconcat":[
{"hconcat":[
  {"width":118,"height":200,"layer":[
   {"data":{"name":"sig"},"transform":[{"filter":"datum.r=='b' && datum.f==20"}],"mark":{"type":"area","color":"#000000","clip":true},"encoding":{"x":{"field":"t","type":"quantitative","scale":{"domain":[-1,11],"nice":false,"zero":false},"axis":{"values":[0,1,2,3,4,5,6,7,8,9,10],"tickCount":100,"format":"d","labelOverlap":false,"labelExpr":"datum.value%2==0 ? datum.label : ''","tickSize":{"condition":{"test":"datum.value%2==1","value":3},"value":5},"labelColor":"black","title":null}},"y":{"field":"lo","type":"quantitative","scale":{"domain":[3.4,5.8],"nice":false,"zero":false},"axis":{"values":[3.5,3.75,4,4.25,4.5,4.75,5,5.25,5.5,5.75],"tickCount":100,"format":".1f","labelOverlap":false,"labelExpr":"(datum.value*4)%2==0 ? datum.label : ''","tickSize":{"condition":{"test":"(datum.value*4)%2==1","value":4},"value":7},"title":"d (nm)","titleFontSize":21,"titlePadding":4}},"y2":{"field":"hi"}}},
   {"data":{"values":[{}]},"mark":{"type":"text","align":"right","baseline":"middle","fontSize":16},"encoding":{"x":{"datum":10.1},"y":{"datum":5.65},"text":{"value":"ω = 20 GHz"}}},
   {"data":{"values":[{}]},"mark":{"type":"text","align":"left","baseline":"alphabetic","fontSize":18},"encoding":{"x":{"datum":-7.87},"y":{"datum":5.725},"text":{"value":"(b) 50 K"}}}]},
  {"width":118,"height":200,"layer":[
   {"data":{"name":"sig"},"transform":[{"filter":"datum.r=='b' && datum.f==30"}],"mark":{"type":"area","color":"#008000","clip":true},"encoding":{"x":{"field":"t","type":"quantitative","scale":{"domain":[-1,11],"nice":false,"zero":false},"axis":{"values":[0,1,2,3,4,5,6,7,8,9,10],"tickCount":100,"format":"d","labelOverlap":false,"labelExpr":"datum.value%2==0 ? datum.label : ''","tickSize":{"condition":{"test":"datum.value%2==1","value":3},"value":5},"labelColor":"#0000ff","title":null}},"y":{"field":"lo","type":"quantitative","scale":{"domain":[3.4,5.8],"nice":false,"zero":false},"axis":{"values":[3.5,3.75,4,4.25,4.5,4.75,5,5.25,5.5,5.75],"tickCount":100,"labels":false,"tickSize":{"condition":{"test":"(datum.value*4)%2==1","value":4},"value":7},"title":null}},"y2":{"field":"hi"}}},
   {"data":{"values":[{}]},"mark":{"type":"text","align":"right","baseline":"middle","fontSize":16},"encoding":{"x":{"datum":9.6},"y":{"datum":5.65},"text":{"value":"30 GHz"}}}]},
  {"width":118,"height":200,"layer":[
   {"data":{"name":"sig"},"transform":[{"filter":"datum.r=='b' && datum.f==40"}],"mark":{"type":"area","color":"#008000","clip":true},"encoding":{"x":{"field":"t","type":"quantitative","scale":{"domain":[-1,11],"nice":false,"zero":false},"axis":{"values":[0,1,2,3,4,5,6,7,8,9,10],"tickCount":100,"format":"d","labelOverlap":false,"labelExpr":"datum.value%2==0 ? datum.label : ''","tickSize":{"condition":{"test":"datum.value%2==1","value":3},"value":5},"labelColor":"black","title":null}},"y":{"field":"lo","type":"quantitative","scale":{"domain":[3.4,5.8],"nice":false,"zero":false},"axis":{"values":[3.5,3.75,4,4.25,4.5,4.75,5,5.25,5.5,5.75],"tickCount":100,"labels":false,"tickSize":{"condition":{"test":"(datum.value*4)%2==1","value":4},"value":7},"title":null}},"y2":{"field":"hi"}}},
   {"data":{"values":[{}]},"mark":{"type":"text","align":"right","baseline":"middle","fontSize":16},"encoding":{"x":{"datum":9.6},"y":{"datum":5.65},"text":{"value":"40 GHz"}}}]},
  {"width":118,"height":200,"layer":[
   {"data":{"name":"sig"},"transform":[{"filter":"datum.r=='b' && datum.f==50"}],"mark":{"type":"area","color":"#008000","clip":true},"encoding":{"x":{"field":"t","type":"quantitative","scale":{"domain":[-1,11],"nice":false,"zero":false},"axis":{"values":[0,1,2,3,4,5,6,7,8,9,10],"tickCount":100,"format":"d","labelOverlap":false,"labelExpr":"datum.value%2==0 ? datum.label : ''","tickSize":{"condition":{"test":"datum.value%2==1","value":3},"value":5},"labelColor":"#0000ff","title":null}},"y":{"field":"lo","type":"quantitative","scale":{"domain":[3.4,5.8],"nice":false,"zero":false},"axis":{"values":[3.5,3.75,4,4.25,4.5,4.75,5,5.25,5.5,5.75],"tickCount":100,"labels":false,"tickSize":{"condition":{"test":"(datum.value*4)%2==1","value":4},"value":7},"title":null}},"y2":{"field":"hi"}}},
   {"data":{"values":[{}]},"mark":{"type":"text","align":"right","baseline":"middle","fontSize":16},"encoding":{"x":{"datum":9.6},"y":{"datum":5.65},"text":{"value":"50 GHz"}}}]},
  {"width":118,"height":200,"layer":[
   {"data":{"name":"sig"},"transform":[{"filter":"datum.r=='b' && datum.f==60"}],"mark":{"type":"area","color":"#008000","clip":true},"encoding":{"x":{"field":"t","type":"quantitative","scale":{"domain":[-1,11],"nice":false,"zero":false},"axis":{"values":[0,1,2,3,4,5,6,7,8,9,10],"tickCount":100,"format":"d","labelOverlap":false,"labelExpr":"datum.value%2==0 ? datum.label : ''","tickSize":{"condition":{"test":"datum.value%2==1","value":3},"value":5},"labelColor":"black","title":null}},"y":{"field":"lo","type":"quantitative","scale":{"domain":[3.4,5.8],"nice":false,"zero":false},"axis":{"values":[3.5,3.75,4,4.25,4.5,4.75,5,5.25,5.5,5.75],"tickCount":100,"labels":false,"tickSize":{"condition":{"test":"(datum.value*4)%2==1","value":4},"value":7},"title":null}},"y2":{"field":"hi"}}},
   {"data":{"values":[{}]},"mark":{"type":"text","align":"right","baseline":"middle","fontSize":16},"encoding":{"x":{"datum":9.6},"y":{"datum":5.65},"text":{"value":"60 GHz"}}}]},
  {"width":118,"height":200,"layer":[
   {"data":{"name":"sig"},"transform":[{"filter":"datum.r=='b' && datum.f==70"}],"mark":{"type":"area","color":"#8000ff","clip":true},"encoding":{"x":{"field":"t","type":"quantitative","scale":{"domain":[-1,11],"nice":false,"zero":false},"axis":{"values":[0,1,2,3,4,5,6,7,8,9,10],"tickCount":100,"format":"d","labelOverlap":false,"labelExpr":"datum.value%2==0 ? datum.label : ''","tickSize":{"condition":{"test":"datum.value%2==1","value":3},"value":5},"labelColor":"#0000ff","title":null}},"y":{"field":"lo","type":"quantitative","scale":{"domain":[3.4,5.8],"nice":false,"zero":false},"axis":{"values":[3.5,3.75,4,4.25,4.5,4.75,5,5.25,5.5,5.75],"tickCount":100,"labels":false,"tickSize":{"condition":{"test":"(datum.value*4)%2==1","value":4},"value":7},"title":null}},"y2":{"field":"hi"}}},
   {"data":{"values":[{}]},"mark":{"type":"text","align":"right","baseline":"middle","fontSize":16},"encoding":{"x":{"datum":9.6},"y":{"datum":5.65},"text":{"value":"70 GHz"}}}]},
  {"width":118,"height":200,"layer":[
   {"data":{"name":"sig"},"transform":[{"filter":"datum.r=='b' && datum.f==80"}],"mark":{"type":"area","color":"#8000ff","clip":true},"encoding":{"x":{"field":"t","type":"quantitative","scale":{"domain":[-1,11],"nice":false,"zero":false},"axis":{"values":[0,1,2,3,4,5,6,7,8,9,10],"tickCount":100,"format":"d","labelOverlap":false,"labelExpr":"datum.value%2==0 ? datum.label : ''","tickSize":{"condition":{"test":"datum.value%2==1","value":3},"value":5},"labelColor":"black","title":null}},"y":{"field":"lo","type":"quantitative","scale":{"domain":[3.4,5.8],"nice":false,"zero":false},"axis":{"values":[3.5,3.75,4,4.25,4.5,4.75,5,5.25,5.5,5.75],"tickCount":100,"labels":false,"tickSize":{"condition":{"test":"(datum.value*4)%2==1","value":4},"value":7},"title":null}},"y2":{"field":"hi"}}},
   {"data":{"values":[{}]},"mark":{"type":"text","align":"right","baseline":"middle","fontSize":16},"encoding":{"x":{"datum":9.6},"y":{"datum":5.65},"text":{"value":"80 GHz"}}}]},
  {"width":118,"height":200,"layer":[
   {"data":{"name":"sig"},"transform":[{"filter":"datum.r=='b' && datum.f==90"}],"mark":{"type":"area","color":"#8000ff","clip":true},"encoding":{"x":{"field":"t","type":"quantitative","scale":{"domain":[-1,11],"nice":false,"zero":false},"axis":{"values":[0,1,2,3,4,5,6,7,8,9,10],"tickCount":100,"format":"d","labelOverlap":false,"labelExpr":"datum.value%2==0 ? datum.label : ''","tickSize":{"condition":{"test":"datum.value%2==1","value":3},"value":5},"labelColor":"#0000ff","title":"ns","titleX":119,"titleY":19,"titleAlign":"left","titleBaseline":"alphabetic","titleAngle":0,"titleColor":"#0000ff","titleFontSize":16}},"y":{"field":"lo","type":"quantitative","scale":{"domain":[3.4,5.8],"nice":false,"zero":false},"axis":{"values":[3.5,3.75,4,4.25,4.5,4.75,5,5.25,5.5,5.75],"tickCount":100,"labels":false,"tickSize":{"condition":{"test":"(datum.value*4)%2==1","value":4},"value":7},"title":null}},"y2":{"field":"hi"}}},
   {"data":{"values":[{}]},"mark":{"type":"text","align":"right","baseline":"middle","fontSize":16},"encoding":{"x":{"datum":9.6},"y":{"datum":5.65},"text":{"value":"90 GHz"}}}]},
  {"width":53,"height":200,"data":{"values":[{}]},"mark":{"type":"point","opacity":0},"encoding":{},"view":{"stroke":null}},
  {"width":106,"height":200,"layer":[
   {"data":{"name":"sig"},"transform":[{"filter":"datum.r=='b' && datum.f==100"}],"mark":{"type":"area","color":"#808080","clip":true},"encoding":{"x":{"field":"t","type":"quantitative","scale":{"domain":[-0.12,2.5],"nice":false,"zero":false},"axis":{"values":[0,0.5,1,1.5,2,2.5],"tickCount":100,"format":".0f","labelOverlap":false,"labelExpr":"datum.value%1==0 ? datum.label : ''","tickSize":{"condition":{"test":"datum.value%1!=0","value":3},"value":5},"title":"ns","titleX":93,"titleY":19,"titleAlign":"left","titleBaseline":"alphabetic","titleAngle":0,"titleFontSize":16}},"y":{"field":"lo","type":"quantitative","scale":{"domain":[-5,3,5.75],"range":[200,176,0],"nice":false,"zero":false},"axis":{"values":[-5,-1,3,3.25,3.5,3.75,4,4.25,4.5,4.75,5,5.25,5.5,5.75],"tickCount":100,"format":".1f","labelOverlap":false,"labelExpr":"datum.value==-5 ? '-5.0' : ((datum.value>=3 && (datum.value*4)%2==0) ? datum.label : '')","tickSize":{"condition":{"test":"datum.value==-1 || (datum.value*4)%2==1","value":4},"value":7},"title":null}},"y2":{"field":"hi"}}},
   {"data":{"name":"seg"},"transform":[{"filter":"datum.r=='b'"}],"mark":{"type":"rule","color":"#b4b4b4","strokeWidth":1.5},"encoding":{"x":{"field":"t","type":"quantitative"},"y":{"field":"lo","type":"quantitative"},"y2":{"field":"hi"}}},
   {"data":{"values":[{}]},"mark":{"type":"text","align":"right","baseline":"middle","fontSize":16},"encoding":{"x":{"datum":2.28},"y":{"datum":5.54},"text":{"value":"100 GHz"}}},
   {"data":{"values":[{}]},"mark":{"type":"text","align":"center","baseline":"middle","fontSize":14,"angle":-30},"encoding":{"x":{"datum":-0.12},"y":{"datum":3.0},"text":{"value":"≈"}}},
   {"data":{"values":[{}]},"mark":{"type":"text","align":"center","baseline":"middle","fontSize":12,"angle":-30},"encoding":{"x":{"datum":2.49},"y":{"datum":3.0},"text":{"value":"≈"}}}
  ]}
],"spacing":0,"bounds":"flush"},
{"hconcat":[
  {"width":118,"height":200,"layer":[
   {"data":{"name":"sig"},"transform":[{"filter":"datum.r=='c' && datum.f==20"}],"mark":{"type":"area","color":"#000000","clip":true},"encoding":{"x":{"field":"t","type":"quantitative","scale":{"domain":[-1,11],"nice":false,"zero":false},"axis":{"values":[0,1,2,3,4,5,6,7,8,9,10],"tickCount":100,"format":"d","labelOverlap":false,"labelExpr":"datum.value%2==0 ? datum.label : ''","tickSize":{"condition":{"test":"datum.value%2==1","value":3},"value":5},"labelColor":"black","title":null}},"y":{"field":"lo","type":"quantitative","scale":{"domain":[3.4,5.8],"nice":false,"zero":false},"axis":{"values":[3.5,3.75,4,4.25,4.5,4.75,5,5.25,5.5,5.75],"tickCount":100,"format":".1f","labelOverlap":false,"labelExpr":"(datum.value*4)%2==0 ? datum.label : ''","tickSize":{"condition":{"test":"(datum.value*4)%2==1","value":4},"value":7},"title":"d (nm)","titleFontSize":21,"titlePadding":4}},"y2":{"field":"hi"}}},
   {"data":{"values":[{}]},"mark":{"type":"text","align":"right","baseline":"middle","fontSize":16},"encoding":{"x":{"datum":10.1},"y":{"datum":5.65},"text":{"value":"ω = 20 GHz"}}},
   {"data":{"values":[{}]},"mark":{"type":"text","align":"left","baseline":"alphabetic","fontSize":18},"encoding":{"x":{"datum":-7.87},"y":{"datum":5.725},"text":{"value":"(c) 150 K"}}}]},
  {"width":118,"height":200,"layer":[
   {"data":{"name":"sig"},"transform":[{"filter":"datum.r=='c' && datum.f==30"}],"mark":{"type":"area","color":"#008000","clip":true},"encoding":{"x":{"field":"t","type":"quantitative","scale":{"domain":[-1,11],"nice":false,"zero":false},"axis":{"values":[0,1,2,3,4,5,6,7,8,9,10],"tickCount":100,"format":"d","labelOverlap":false,"labelExpr":"datum.value%2==0 ? datum.label : ''","tickSize":{"condition":{"test":"datum.value%2==1","value":3},"value":5},"labelColor":"#0000ff","title":null}},"y":{"field":"lo","type":"quantitative","scale":{"domain":[3.4,5.8],"nice":false,"zero":false},"axis":{"values":[3.5,3.75,4,4.25,4.5,4.75,5,5.25,5.5,5.75],"tickCount":100,"labels":false,"tickSize":{"condition":{"test":"(datum.value*4)%2==1","value":4},"value":7},"title":null}},"y2":{"field":"hi"}}},
   {"data":{"values":[{}]},"mark":{"type":"text","align":"right","baseline":"middle","fontSize":16},"encoding":{"x":{"datum":9.6},"y":{"datum":5.65},"text":{"value":"30 GHz"}}}]},
  {"width":118,"height":200,"layer":[
   {"data":{"name":"sig"},"transform":[{"filter":"datum.r=='c' && datum.f==40"}],"mark":{"type":"area","color":"#008000","clip":true},"encoding":{"x":{"field":"t","type":"quantitative","scale":{"domain":[-1,11],"nice":false,"zero":false},"axis":{"values":[0,1,2,3,4,5,6,7,8,9,10],"tickCount":100,"format":"d","labelOverlap":false,"labelExpr":"datum.value%2==0 ? datum.label : ''","tickSize":{"condition":{"test":"datum.value%2==1","value":3},"value":5},"labelColor":"black","title":null}},"y":{"field":"lo","type":"quantitative","scale":{"domain":[3.4,5.8],"nice":false,"zero":false},"axis":{"values":[3.5,3.75,4,4.25,4.5,4.75,5,5.25,5.5,5.75],"tickCount":100,"labels":false,"tickSize":{"condition":{"test":"(datum.value*4)%2==1","value":4},"value":7},"title":null}},"y2":{"field":"hi"}}},
   {"data":{"values":[{}]},"mark":{"type":"text","align":"right","baseline":"middle","fontSize":16},"encoding":{"x":{"datum":9.6},"y":{"datum":5.65},"text":{"value":"40 GHz"}}}]},
  {"width":118,"height":200,"layer":[
   {"data":{"name":"sig"},"transform":[{"filter":"datum.r=='c' && datum.f==50"}],"mark":{"type":"area","color":"#008000","clip":true},"encoding":{"x":{"field":"t","type":"quantitative","scale":{"domain":[-1,11],"nice":false,"zero":false},"axis":{"values":[0,1,2,3,4,5,6,7,8,9,10],"tickCount":100,"format":"d","labelOverlap":false,"labelExpr":"datum.value%2==0 ? datum.label : ''","tickSize":{"condition":{"test":"datum.value%2==1","value":3},"value":5},"labelColor":"#0000ff","title":null}},"y":{"field":"lo","type":"quantitative","scale":{"domain":[3.4,5.8],"nice":false,"zero":false},"axis":{"values":[3.5,3.75,4,4.25,4.5,4.75,5,5.25,5.5,5.75],"tickCount":100,"labels":false,"tickSize":{"condition":{"test":"(datum.value*4)%2==1","value":4},"value":7},"title":null}},"y2":{"field":"hi"}}},
   {"data":{"values":[{}]},"mark":{"type":"text","align":"right","baseline":"middle","fontSize":16},"encoding":{"x":{"datum":9.6},"y":{"datum":5.65},"text":{"value":"50 GHz"}}}]},
  {"width":118,"height":200,"layer":[
   {"data":{"name":"sig"},"transform":[{"filter":"datum.r=='c' && datum.f==60"}],"mark":{"type":"area","color":"#008000","clip":true},"encoding":{"x":{"field":"t","type":"quantitative","scale":{"domain":[-1,11],"nice":false,"zero":false},"axis":{"values":[0,1,2,3,4,5,6,7,8,9,10],"tickCount":100,"format":"d","labelOverlap":false,"labelExpr":"datum.value%2==0 ? datum.label : ''","tickSize":{"condition":{"test":"datum.value%2==1","value":3},"value":5},"labelColor":"black","title":null}},"y":{"field":"lo","type":"quantitative","scale":{"domain":[3.4,5.8],"nice":false,"zero":false},"axis":{"values":[3.5,3.75,4,4.25,4.5,4.75,5,5.25,5.5,5.75],"tickCount":100,"labels":false,"tickSize":{"condition":{"test":"(datum.value*4)%2==1","value":4},"value":7},"title":null}},"y2":{"field":"hi"}}},
   {"data":{"values":[{}]},"mark":{"type":"text","align":"right","baseline":"middle","fontSize":16},"encoding":{"x":{"datum":9.6},"y":{"datum":5.65},"text":{"value":"60 GHz"}}}]},
  {"width":118,"height":200,"layer":[
   {"data":{"name":"sig"},"transform":[{"filter":"datum.r=='c' && datum.f==70"}],"mark":{"type":"area","color":"#8000ff","clip":true},"encoding":{"x":{"field":"t","type":"quantitative","scale":{"domain":[-1,11],"nice":false,"zero":false},"axis":{"values":[0,1,2,3,4,5,6,7,8,9,10],"tickCount":100,"format":"d","labelOverlap":false,"labelExpr":"datum.value%2==0 ? datum.label : ''","tickSize":{"condition":{"test":"datum.value%2==1","value":3},"value":5},"labelColor":"#0000ff","title":null}},"y":{"field":"lo","type":"quantitative","scale":{"domain":[3.4,5.8],"nice":false,"zero":false},"axis":{"values":[3.5,3.75,4,4.25,4.5,4.75,5,5.25,5.5,5.75],"tickCount":100,"labels":false,"tickSize":{"condition":{"test":"(datum.value*4)%2==1","value":4},"value":7},"title":null}},"y2":{"field":"hi"}}},
   {"data":{"values":[{}]},"mark":{"type":"text","align":"right","baseline":"middle","fontSize":16},"encoding":{"x":{"datum":9.6},"y":{"datum":5.65},"text":{"value":"70 GHz"}}}]},
  {"width":118,"height":200,"layer":[
   {"data":{"name":"sig"},"transform":[{"filter":"datum.r=='c' && datum.f==80"}],"mark":{"type":"area","color":"#8000ff","clip":true},"encoding":{"x":{"field":"t","type":"quantitative","scale":{"domain":[-1,11],"nice":false,"zero":false},"axis":{"values":[0,1,2,3,4,5,6,7,8,9,10],"tickCount":100,"format":"d","labelOverlap":false,"labelExpr":"datum.value%2==0 ? datum.label : ''","tickSize":{"condition":{"test":"datum.value%2==1","value":3},"value":5},"labelColor":"black","title":null}},"y":{"field":"lo","type":"quantitative","scale":{"domain":[3.4,5.8],"nice":false,"zero":false},"axis":{"values":[3.5,3.75,4,4.25,4.5,4.75,5,5.25,5.5,5.75],"tickCount":100,"labels":false,"tickSize":{"condition":{"test":"(datum.value*4)%2==1","value":4},"value":7},"title":null}},"y2":{"field":"hi"}}},
   {"data":{"values":[{}]},"mark":{"type":"text","align":"right","baseline":"middle","fontSize":16},"encoding":{"x":{"datum":9.6},"y":{"datum":5.65},"text":{"value":"80 GHz"}}}]},
  {"width":118,"height":200,"layer":[
   {"data":{"name":"sig"},"transform":[{"filter":"datum.r=='c' && datum.f==90"}],"mark":{"type":"area","color":"#8000ff","clip":true},"encoding":{"x":{"field":"t","type":"quantitative","scale":{"domain":[-1,11],"nice":false,"zero":false},"axis":{"values":[0,1,2,3,4,5,6,7,8,9,10],"tickCount":100,"format":"d","labelOverlap":false,"labelExpr":"datum.value%2==0 ? datum.label : ''","tickSize":{"condition":{"test":"datum.value%2==1","value":3},"value":5},"labelColor":"#0000ff","title":"ns","titleX":119,"titleY":19,"titleAlign":"left","titleBaseline":"alphabetic","titleAngle":0,"titleColor":"#0000ff","titleFontSize":16}},"y":{"field":"lo","type":"quantitative","scale":{"domain":[3.4,5.8],"nice":false,"zero":false},"axis":{"values":[3.5,3.75,4,4.25,4.5,4.75,5,5.25,5.5,5.75],"tickCount":100,"labels":false,"tickSize":{"condition":{"test":"(datum.value*4)%2==1","value":4},"value":7},"title":null}},"y2":{"field":"hi"}}},
   {"data":{"values":[{}]},"mark":{"type":"text","align":"right","baseline":"middle","fontSize":16},"encoding":{"x":{"datum":9.6},"y":{"datum":5.65},"text":{"value":"90 GHz"}}}]},
  {"width":53,"height":200,"data":{"values":[{}]},"mark":{"type":"point","opacity":0},"encoding":{},"view":{"stroke":null}},
  {"width":106,"height":200,"layer":[
   {"data":{"name":"sig"},"transform":[{"filter":"datum.r=='c' && datum.f==100"}],"mark":{"type":"area","color":"#808080","clip":true},"encoding":{"x":{"field":"t","type":"quantitative","scale":{"domain":[-0.12,2.5],"nice":false,"zero":false},"axis":{"values":[0,0.5,1,1.5,2,2.5],"tickCount":100,"format":".0f","labelOverlap":false,"labelExpr":"datum.value%1==0 ? datum.label : ''","tickSize":{"condition":{"test":"datum.value%1!=0","value":3},"value":5},"title":"ns","titleX":93,"titleY":19,"titleAlign":"left","titleBaseline":"alphabetic","titleAngle":0,"titleFontSize":16}},"y":{"field":"lo","type":"quantitative","scale":{"domain":[-5,3,5.75],"range":[200,176,0],"nice":false,"zero":false},"axis":{"values":[-5,-1,3,3.25,3.5,3.75,4,4.25,4.5,4.75,5,5.25,5.5,5.75],"tickCount":100,"format":".1f","labelOverlap":false,"labelExpr":"datum.value==-5 ? '-5.0' : ((datum.value>=3 && (datum.value*4)%2==0) ? datum.label : '')","tickSize":{"condition":{"test":"datum.value==-1 || (datum.value*4)%2==1","value":4},"value":7},"title":null}},"y2":{"field":"hi"}}},
   {"data":{"name":"seg"},"transform":[{"filter":"datum.r=='c'"}],"mark":{"type":"rule","color":"#b4b4b4","strokeWidth":1.5},"encoding":{"x":{"field":"t","type":"quantitative"},"y":{"field":"lo","type":"quantitative"},"y2":{"field":"hi"}}},
   {"data":{"values":[{}]},"mark":{"type":"text","align":"right","baseline":"middle","fontSize":16},"encoding":{"x":{"datum":2.28},"y":{"datum":5.54},"text":{"value":"100 GHz"}}},
   {"data":{"values":[{}]},"mark":{"type":"text","align":"center","baseline":"middle","fontSize":14,"angle":-30},"encoding":{"x":{"datum":-0.12},"y":{"datum":3.0},"text":{"value":"≈"}}},
   {"data":{"values":[{}]},"mark":{"type":"text","align":"center","baseline":"middle","fontSize":12,"angle":-30},"encoding":{"x":{"datum":2.49},"y":{"datum":3.0},"text":{"value":"≈"}}}
  ]}
],"spacing":0,"bounds":"flush"}
],"spacing":9}
]
}
